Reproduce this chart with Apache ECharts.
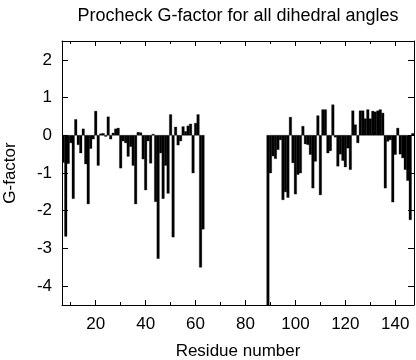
<!DOCTYPE html>
<html><head><meta charset="utf-8">
<script src="https://cdn.jsdelivr.net/npm/echarts@6/dist/echarts.min.js"></script>
<style>html,body{margin:0;padding:0;background:#fff}#c{width:416px;height:360px}</style>
</head><body><div id="c"></div>
<script>
// Residue numbers (two segments; residues 64-88 have no values)
const residues = [
  7,8,9,10,11,12,13,14,15,16,17,18,19,20,21,22,23,24,25,26,27,28,29,30,31,32,33,34,35,
  36,37,38,39,40,41,42,43,44,45,46,47,48,49,50,51,52,53,54,55,56,57,58,59,60,61,62,63,
  89,90,91,92,93,94,95,96,97,98,99,100,101,102,103,104,105,106,107,108,109,110,111,112,
  113,114,115,116,117,118,119,120,121,122,123,124,125,126,127,128,129,130,131,132,133,
  134,135,136,137,138,139,140,141,142,143,144,145,146,147
];
// G-factor per residue (same order)
const gFactor = [
  -0.72,-2.68,-0.75,-0.2,-1.68,0.42,-0.25,-0.47,0.17,-0.76,-1.82,-0.35,-0.1,0.64,-0.8,0.04,0.05,-0.03,0.49,-0.1,0.06,0.17,0.19,-0.87,-0.15,-0.2,-0.56,-0.3,-0.8,
  -1.82,0.08,0.07,-0.63,-1.45,-0.15,-0.74,0.03,-1.76,-3.27,-0.47,-1.68,-0.8,-1.54,0.55,-2.7,0.22,-0.26,-0.15,0.23,0.1,0.25,0.3,-1.0,0.32,0.55,-3.5,-2.49,
  -4.5,-1.0,-0.55,-0.62,-0.38,-0.12,-1.71,-1.5,-1.65,0.48,-0.73,-1.56,-1.04,-1.0,0.24,-0.23,-0.25,-0.51,-1.4,-0.69,0.52,-1.58,0.68,0.68,
  -0.47,-0.41,0.81,-0.05,-0.82,-0.5,-0.67,-0.84,-0.34,-0.91,0.65,0.28,-0.2,0.65,0.65,0.44,0.68,0.44,0.64,0.62,0.65,
  0.68,0.59,-1.4,-0.16,-0.12,-1.77,-0.51,0.19,-0.5,-0.6,-0.91,-1.2,-2.24,0.05
];
// Tick marks / labels
const xMajorTicks = [20,40,60,80,100,120,140];
const xMinorTicks = [10,30,50,70,90,110,130];
const yTicks = [-4,-3,-2,-1,0,1,2];

const FONT = '"Liberation Sans", Arial, Helvetica, sans-serif';
const xMin = 6.5, xMax = 147.5, yMin = -4.5, yMax = 2.5;
const gridBox = {left: 62, right: 2, top: 41, bottom: 55, containLabel: false, outerBoundsMode: 'none'};

function xAx(gridIndex, position, ticks, len, showLine, label, name) {
  const a = {
    type: 'value', gridIndex, position, min: xMin, max: xMax,
    axisLine: {show: showLine, onZero: false, lineStyle: {color: '#000', width: 1}},
    axisTick: {show: true, inside: true, length: len, customValues: ticks, lineStyle: {color: '#000', width: 1}},
    axisLabel: label ? {show: true, customValues: ticks, color: '#000', fontSize: 17, fontFamily: FONT, margin: 11} : {show: false},
    splitLine: {show: false}
  };
  if (name) {
    a.name = name; a.nameLocation = 'middle'; a.nameGap = 38;
    a.nameTextStyle = {color: '#000', fontSize: 17, fontFamily: FONT};
  }
  return a;
}
function yAx(gridIndex, position, show, label, name) {
  const a = {
    type: 'value', gridIndex, position, min: yMin, max: yMax, show: show,
    axisLine: {show: true, onZero: false, lineStyle: {color: '#000', width: 1}},
    axisTick: {show: true, inside: true, length: 6, customValues: yTicks, lineStyle: {color: '#000', width: 1}},
    axisLabel: label ? {show: true, customValues: yTicks, color: '#000', fontSize: 17, fontFamily: FONT, margin: 10} : {show: false},
    splitLine: {show: false}
  };
  if (name) {
    a.name = name; a.nameLocation = 'middle'; a.nameGap = 43;
    a.nameTextStyle = {color: '#000', fontSize: 17, fontFamily: FONT};
  }
  return a;
}

const chart = echarts.init(document.getElementById('c'), null, {renderer: 'canvas'});
chart.setOption({
  animation: false,
  backgroundColor: '#fff',
  title: {
    text: 'Procheck G-factor for all dihedral angles',
    left: 233, top: 2, textAlign: 'center',
    textStyle: {color: '#000', fontSize: 18, fontWeight: 'normal', fontFamily: FONT}
  },
  grid: [Object.assign({}, gridBox), Object.assign({}, gridBox)],
  xAxis: [
    xAx(0, 'bottom', xMajorTicks, 5, true, true, 'Residue number'),
    xAx(0, 'top', xMajorTicks, 5, true, false),
    xAx(1, 'bottom', xMinorTicks, 3, false, false),
    xAx(1, 'top', xMinorTicks, 3, false, false)
  ],
  yAxis: [
    yAx(0, 'left', true, true, 'G-factor'),
    yAx(0, 'right', true, false),
    yAx(1, 'left', false, false)
  ],
  series: [{
    type: 'custom',
    xAxisIndex: 0, yAxisIndex: 0,
    clip: true,
    data: residues.map((r, i) => [r, gFactor[i]]),
    encode: {x: 0, y: 1},
    renderItem: function (params, api) {
      const r = api.value(0), v = api.value(1);
      const a = api.coord([r - 0.5, 0]);
      const b = api.coord([r + 0.5, v]);
      return {
        type: 'rect',
        shape: {x: a[0], y: Math.min(a[1], b[1]), width: b[0] - a[0], height: Math.abs(b[1] - a[1])},
        style: {fill: '#000', stroke: '#000', lineWidth: 0.3}
      };
    }
  }]
});
</script></body></html>
